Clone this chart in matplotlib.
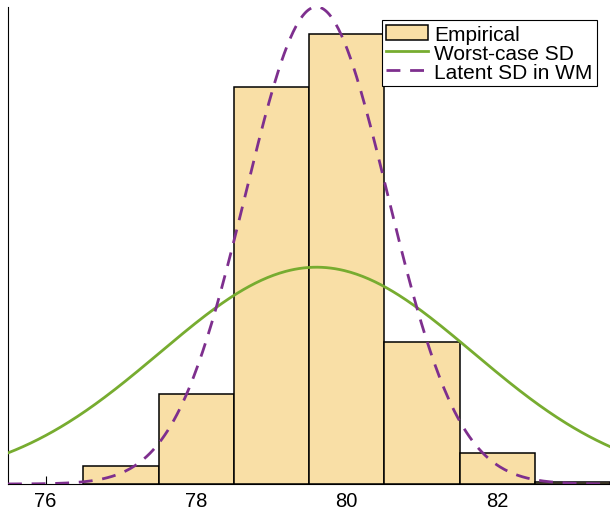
import numpy as np
import matplotlib.pyplot as plt

plt.rcParams['font.family'] = ['Liberation Sans', 'DejaVu Sans']

# histogram bins (density, bin width 1)
bin_edges = [76.5, 77.5, 78.5, 79.5, 80.5, 81.5, 82.5, 83.5]
density = [0.016, 0.080, 0.351, 0.398, 0.126, 0.027, 0.002]

# fitted normal curves
mu = 79.6
sd_worst = 2.08
sd_latent = 0.945


def normpdf(x, m, s):
    return np.exp(-0.5 * ((x - m) / s) ** 2) / (s * np.sqrt(2 * np.pi))


fig = plt.figure(figsize=(6.1, 5.1), dpi=100)
ax = fig.add_axes([8 / 610, 25 / 510, 602 / 610, 477 / 510])

widths = np.diff(bin_edges)
bars = ax.bar(bin_edges[:-1], density, width=widths, align='edge',
              color='#F9DFA6', edgecolor='black', linewidth=1.1,
              label='Empirical', zorder=2)

x = np.linspace(75.5, 83.5, 400)
l1, = ax.plot(x, normpdf(x, mu, sd_worst), color='#77AC30', lw=2,
              label='Worst-case SD', zorder=3)
l2, = ax.plot(x, normpdf(x, mu, sd_latent), color='#7E2F8E', lw=2,
              ls=(0, (5, 3.5)), label='Latent SD in WM', zorder=3)

ax.set_xlim(75.5, 83.5)
ax.set_ylim(0, 0.422)
ax.set_xticks([76, 78, 80, 82])
ax.set_yticks([])
ax.tick_params(axis='x', direction='in', length=6, labelsize=14.5, pad=5)
ax.spines['top'].set_visible(False)
ax.spines['right'].set_visible(False)
for s in ('left', 'bottom'):
    ax.spines[s].set_linewidth(0.8)

leg = ax.legend([bars, l1, l2], ['Empirical', 'Worst-case SD', 'Latent SD in WM'],
                loc='upper right', bbox_to_anchor=(0.978, 0.972),
                fontsize=15, frameon=True, fancybox=False,
                edgecolor='black', framealpha=1, borderpad=0.2,
                labelspacing=0.0, handlelength=2.0, handletextpad=0.3,
                borderaxespad=0)
leg.get_frame().set_linewidth(0.8)

fig.savefig('out.png', dpi=100)
